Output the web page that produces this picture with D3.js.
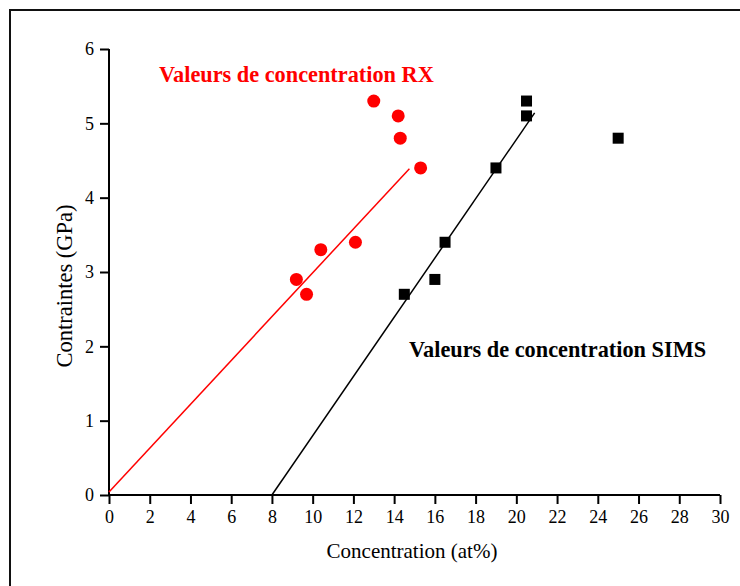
<!DOCTYPE html>
<html lang="en">
<head>
    <meta charset="UTF-8">
    <title>Contraintes vs concentration</title>
    <script type="text/javascript" src="https://cdn.jsdelivr.net/npm/d3@7/dist/d3.min.js"></script>
    <style>
        body { margin: 0; background: #fff; }
        .axis path,
        .axis line {
            fill: none;
            stroke: black;
            stroke-width: 2;
        }
    </style>
</head>
<body>
<script type="text/javascript">
    let width = 740;
    let height = 586;
    let serif = "Liberation Serif, DejaVu Serif";

    // données
    let rxConc = [9.2, 9.7, 10.4, 12.1, 13.0, 14.2, 14.3, 15.3];
    let rxStress = [2.9, 2.7, 3.3, 3.4, 5.3, 5.1, 4.8, 4.4];
    let simsConc = [14.5, 16.0, 16.5, 19.0, 20.5, 20.5, 25.0];
    let simsStress = [2.7, 2.9, 3.4, 4.4, 5.1, 5.3, 4.8];
    // droites d'ajustement (extrémités)
    let rxFit = [[0, 0.04], [14.75, 4.39]];
    let simsFit = [[8, 0], [20.9, 5.14]];
    let xTicks = d3.range(0, 31, 2);
    let yTicks = d3.range(0, 7, 1);

    let svg = d3.select('body')
        .append('svg')
        .attr('width', width)
        .attr('height', height)
        .style('font-family', serif);

    // cadre
    svg.append('path')
        .attr('d', 'M10,' + height + 'V10H' + width)
        .attr('fill', 'none')
        .attr('stroke', '#111')
        .attr('stroke-width', 2);

    let x = d3.scaleLinear().domain([0, 30]).range([109, 720]);
    let y = d3.scaleLinear().domain([0, 6]).range([495, 49]);

    // petites graduations + graduations principales
    let gx = svg.append('g').attr('class', 'axis')
        .attr('transform', 'translate(0,495)');
    gx.call(d3.axisBottom(x).tickValues(d3.range(0, 31, 1)).tickSize(5).tickFormat(''));
    gx.call(d3.axisBottom(x).tickValues(xTicks).tickSize(9).tickPadding(6).tickFormat(d3.format('d')));
    gx.select('.domain').remove();
    gx.append('line').attr('x1', x(0)).attr('x2', x(30)).attr('stroke', 'black').attr('stroke-width', 2);

    let gy = svg.append('g').attr('class', 'axis')
        .attr('transform', 'translate(109,0)');
    gy.call(d3.axisLeft(y).tickValues(d3.range(0, 6.01, 0.2)).tickSize(5).tickFormat(''));
    gy.call(d3.axisLeft(y).tickValues(yTicks).tickSize(9).tickPadding(6).tickFormat(d3.format('d')));
    gy.selectAll('.domain').remove();
    gy.append('line').attr('y1', y(0)).attr('y2', y(6)).attr('stroke', 'black').attr('stroke-width', 2);

    svg.selectAll('.axis')
        .attr('font-family', null)
        .attr('font-size', null);
    svg.selectAll('.axis text')
        .attr('fill', 'black')
        .style('font-family', serif)
        .style('font-size', '18px');

    // titres des axes
    svg.append('text')
        .attr('x', 412)
        .attr('y', 558)
        .attr('text-anchor', 'middle')
        .style('font-family', serif)
        .style('font-size', '21px')
        .text('Concentration (at%)');

    svg.append('text')
        .attr('transform', 'translate(72,286) rotate(-90)')
        .attr('text-anchor', 'middle')
        .style('font-family', serif)
        .style('font-size', '22.5px')
        .text('Contraintes (GPa)');

    let line = d3.line().x(function (d) { return x(d[0]); }).y(function (d) { return y(d[1]); });

    svg.append('path').datum(rxFit)
        .attr('d', line).attr('stroke', '#f00').attr('stroke-width', 1.5).attr('fill', 'none');
    svg.append('path').datum(simsFit)
        .attr('d', line).attr('stroke', '#000').attr('stroke-width', 1.5).attr('fill', 'none');

    svg.selectAll('circle.rx')
        .data(rxConc)
        .enter()
        .append('circle')
        .attr('class', 'rx')
        .attr('cx', function (d) { return x(d); })
        .attr('cy', function (d, i) { return y(rxStress[i]); })
        .attr('r', 6.5)
        .attr('fill', '#f00');

    let s = 11;
    svg.selectAll('rect.sims')
        .data(simsConc)
        .enter()
        .append('rect')
        .attr('class', 'sims')
        .attr('x', function (d) { return x(d) - s / 2; })
        .attr('y', function (d, i) { return y(simsStress[i]) - s / 2; })
        .attr('width', s)
        .attr('height', s)
        .attr('fill', '#000');

    svg.append('text')
        .attr('x', 159)
        .attr('y', 82)
        .attr('fill', '#f00')
        .style('font-family', serif)
        .style('font-size', '22.3px')
        .style('font-weight', 'bold')
        .text('Valeurs de concentration RX');

    svg.append('text')
        .attr('x', 409)
        .attr('y', 357)
        .attr('fill', '#000')
        .style('font-family', serif)
        .style('font-size', '22.3px')
        .style('font-weight', 'bold')
        .text('Valeurs de concentration SIMS');
</script>
</body>
</html>
